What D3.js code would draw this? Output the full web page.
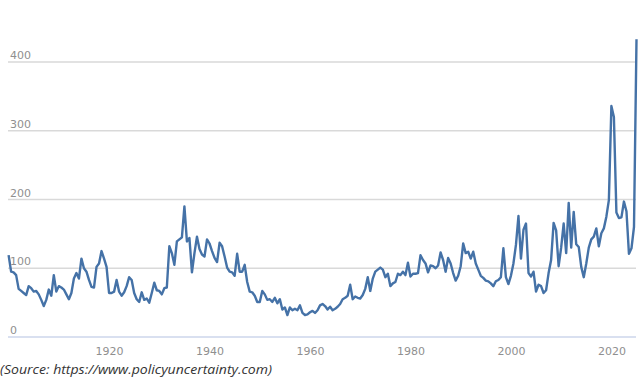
<!DOCTYPE html>
<html><head><meta charset="utf-8">
<script src="https://cdn.jsdelivr.net/npm/d3@7"></script>
<style>html,body{margin:0;padding:0;background:#fff;} svg{display:block}</style>
</head><body><svg id="chart" width="640" height="378"></svg>
<script>
// Half-yearly observations, 1900.0 to 2025.0
const startYear = 1900;
const stepYears = 0.5;
const yTicks = [0, 100, 200, 300, 400];
const xTicks = [1920, 1940, 1960, 1980, 2000, 2020];
const values = [
  119,95,94,90,70,67,64,61,74,71,66,67,62,54,45,54,69,60,90,66,
  74,72,69,62,55,64,85,93,85,114,100,95,83,73,72,102,107,125,114,102,
  64,64,66,83,66,60,65,74,87,83,64,55,51,65,54,56,50,64,79,68,
  67,62,71,72,132,122,105,139,142,145,190,139,144,94,122,146,128,120,117,142,
  136,125,115,109,137,132,117,101,95,94,89,121,95,95,105,80,66,65,60,51,
  51,67,62,54,55,51,57,49,55,40,43,32,43,39,41,39,46,35,32,33,
  36,38,35,39,46,48,45,40,44,39,41,44,48,55,57,60,76,55,59,57,
  56,61,70,87,67,85,95,98,101,98,87,92,74,78,80,92,90,95,90,108,
  88,92,92,93,119,112,107,94,104,103,100,104,123,112,95,115,107,93,82,89,
  103,136,122,124,114,124,107,98,89,86,82,81,78,74,81,83,87,129,87,77,
  89,107,134,176,114,156,165,93,88,95,66,76,74,64,68,93,112,166,155,103,
  130,165,122,195,130,182,135,131,102,87,107,130,142,146,158,132,151,158,175,199,
  336,320,181,173,174,197,183,121,129,160,433
];
const sourceText = "(Source: https://www.policyuncertainty.com)";

const data = values.map((v, i) => ({year: startYear + i * stepYears, value: v}));

const svg = d3.select("#chart");
const x = d3.scaleLinear().domain([startYear, d3.max(data, d => d.year)]).range([8.6, 636.5]);
const y = d3.scaleLinear().domain([0, 400]).range([337, 62]);

// gridlines
svg.append("g").selectAll("line")
  .data(yTicks.filter(t => t > 0))
  .join("line")
  .attr("x1", 8).attr("x2", 636)
  .attr("y1", d => y(d)).attr("y2", d => y(d))
  .attr("stroke", "#d9d9d9").attr("stroke-width", 1.5);

// y labels
svg.append("g").selectAll("text")
  .data(yTicks)
  .join("text")
  .attr("x", 10).attr("y", d => y(d) - 3)
  .attr("font-family", "DejaVu Sans, sans-serif")
  .attr("font-size", 11)
  .attr("fill", "#8f8f8f")
  .text(d => d);

// x axis
const xAxis = d3.axisBottom(x).tickValues(xTicks).tickFormat(d3.format("d")).tickSize(0).tickPadding(10);
const gx = svg.append("g").attr("transform", `translate(0,${y(0)})`).call(xAxis);
gx.select(".domain").attr("stroke", "#ccd6eb").attr("stroke-width", 1.5).attr("d", `M8,0H636`);
gx.selectAll("text")
  .attr("font-family", "DejaVu Sans, sans-serif")
  .attr("font-size", 11)
  .attr("fill", "#8f8f8f");

// line
const line = d3.line().x(d => x(d.year)).y(d => y(d.value));
svg.append("path")
  .datum(data)
  .attr("d", line)
  .attr("fill", "none")
  .attr("stroke", "#4572a7")
  .attr("stroke-width", 2.4)
  .attr("stroke-linejoin", "round");

// source
svg.append("text")
  .attr("x", 0).attr("y", 374)
  .attr("font-family", "Open Sans, sans-serif")
  .attr("font-style", "italic")
  .attr("font-size", 13.5)
  .attr("fill", "#333333")
  .attr("textLength", 272)
  .attr("lengthAdjust", "spacingAndGlyphs")
  .text(sourceText);
</script>
</body></html>
